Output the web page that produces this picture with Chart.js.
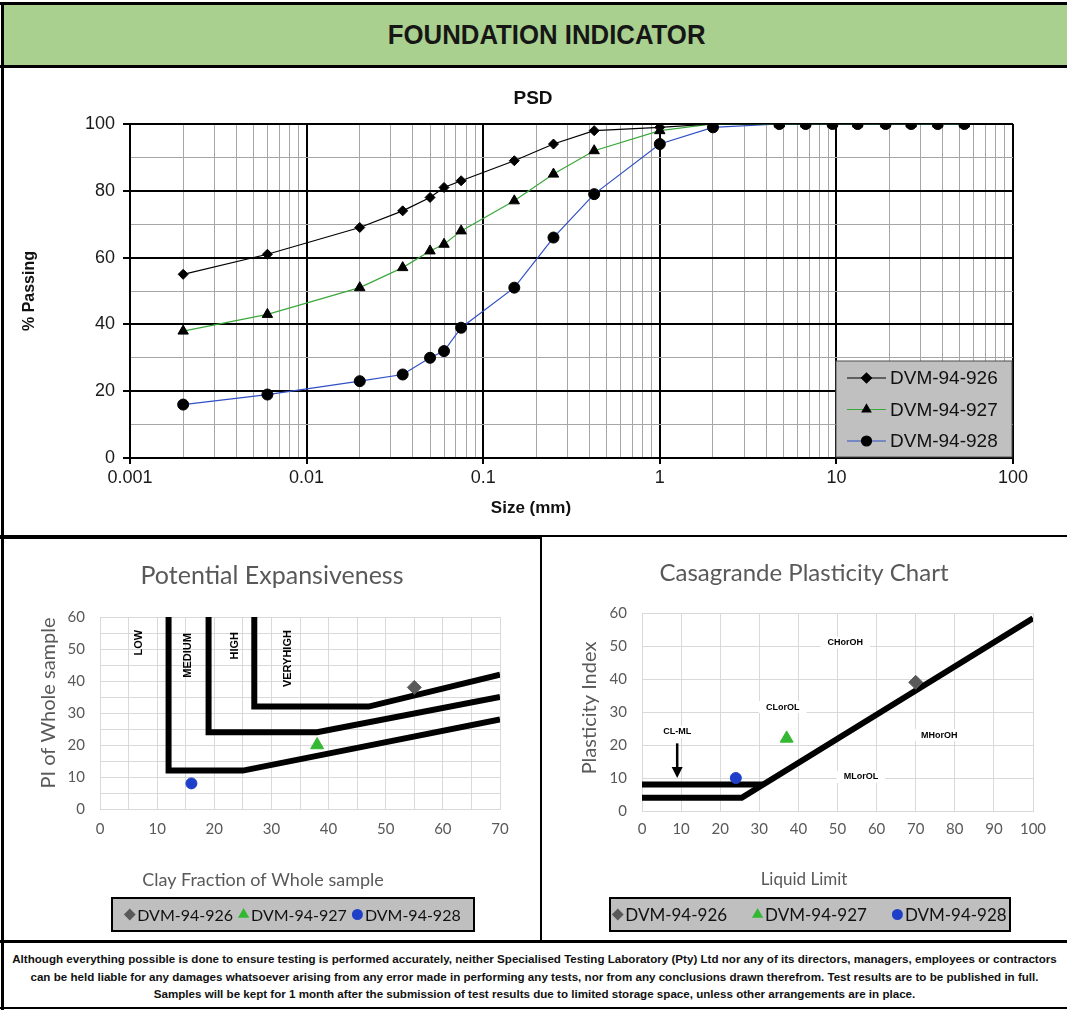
<!DOCTYPE html>
<html lang="en">
<head>
<meta charset="utf-8">
<title>Foundation Indicator</title>
<script src="https://cdn.jsdelivr.net/npm/chart.js@4.4.1/dist/chart.umd.min.js"></script>
<style>
  html, body { margin: 0; padding: 0; background: #ffffff; }
  #sheet { position: relative; width: 1067px; height: 1011px; overflow: hidden; background: #ffffff; }
  .rule { position: absolute; background: #000000; }
  #header {
    position: absolute; left: 3px; top: 5px; width: 1064px; height: 60px;
    background: #a9d08e; display: flex; align-items: center; justify-content: center;
    font-family: 'Liberation Sans Narrow', 'Liberation Sans', Arial, sans-serif;
    font-weight: bold; font-size: 28px; color: #161616;
  }
  #header span { display: inline-block; transform: translateX(12px) scaleX(0.92); }
  .panel { position: absolute; }
  .panel canvas { display: block; }
  #footer {
    position: absolute; left: 4px; top: 950px; width: 1061px; text-align: center; white-space: nowrap;
    font-family: 'Liberation Sans Narrow', 'Liberation Sans', Arial, sans-serif;
    font-weight: bold; font-size: 11.6px; line-height: 17.5px; color: #111111;
  }
</style>
</head>
<body>
<div id="sheet">
  <div class="rule" style="left:0;top:2px;width:1067px;height:3px"></div>
  <div id="header"><span>FOUNDATION INDICATOR</span></div>
  <div class="rule" style="left:0;top:65px;width:1067px;height:3px"></div>
  <div class="rule" style="left:1px;top:2px;width:3px;height:1008px"></div>

  <div class="panel" style="left:4px;top:68px;width:1063px;height:467px"><canvas id="psdChart" width="1063" height="467"></canvas></div>
  <div class="rule" style="left:0;top:535px;width:1067px;height:2px"></div>
  <div class="rule" style="left:0;top:537px;width:541px;height:2px"></div>

  <div class="panel" style="left:4px;top:539px;width:536px;height:401px"><canvas id="expChart" width="536" height="401"></canvas></div>
  <div class="rule" style="left:540px;top:535px;width:2px;height:407px"></div>
  <div class="panel" style="left:542px;top:539px;width:525px;height:401px"><canvas id="casaChart" width="525" height="401"></canvas></div>

  <div class="rule" style="left:0;top:940px;width:1067px;height:3px"></div>
  <div id="footer">Although everything possible is done to ensure testing is performed accurately, neither Specialised Testing Laboratory (Pty) Ltd nor any of its directors, managers, employees or contractors<br>can be held liable for any damages whatsoever arising from any error made in performing any tests, nor from any conclusions drawn therefrom. Test results are to be published in full.<br>Samples will be kept for 1 month after the submission of test results due to limited storage space, unless other arrangements are in place.</div>
  <div class="rule" style="left:0;top:1007px;width:1067px;height:2px"></div>
</div>

<script>
// ---------- sample data ----------
const sampleNames = ['DVM-94-926', 'DVM-94-927', 'DVM-94-928'];

// Particle size distribution (sieve / hydrometer size in mm vs % passing)
const sieveSizes = [0.002, 0.006, 0.02, 0.035, 0.05, 0.06, 0.075, 0.15, 0.25, 0.425, 1, 2, 4.75, 6.7, 9.5, 13.2, 19, 26.5, 37.5, 53];
const passing926 = [55, 61, 69, 74, 78, 81, 83, 89, 94, 98, 99, 100, 100, 100, 100, 100, 100, 100, 100, 100];
const passing927 = [38, 43, 51, 57, 62, 64, 68, 77, 85, 92, 98, 100, 100, 100, 100, 100, 100, 100, 100, 100];
const passing928 = [16, 19, 23, 25, 30, 32, 39, 51, 66, 79, 94, 99, 100, 100, 100, 100, 100, 100, 100, 100];
const sizeTickLabels = ['0.001', '0.01', '0.1', '1', '10', '100'];
const passingTickLabels = [0, 20, 40, 60, 80, 100];

// Potential expansiveness (clay fraction vs PI of whole sample)
const clayFraction = [55, 38, 16];
const piWholeSample = [38, 20, 8];
const lowBoundary = [[12, 60], [12, 12], [25, 12], [70, 28]];
const mediumBoundary = [[19, 60], [19, 24], [38, 24], [70, 35]];
const highBoundary = [[27, 60], [27, 32], [47, 32], [70, 42]];
const expansivenessZones = ['LOW', 'MEDIUM', 'HIGH', 'VERYHIGH'];
const expansivenessZoneAt = [[6.8, 52], [15.4, 48], [23.6, 51], [32.9, 47]];
const clayTicks = [0, 10, 20, 30, 40, 50, 60, 70];
const piTicks = [0, 10, 20, 30, 40, 50, 60];

// Casagrande plasticity chart (liquid limit vs plasticity index)
const liquidLimit = [70, 37, 24];
const plasticityIndex = [39, 22, 10];
const aLine = [[0, 4], [25.5, 4], [100, 58.4]];
const clMlUpper = [[0, 8], [31, 8]];
const soilGroups = ['CHorOH', 'CLorOL', 'MHorOH', 'MLorOL', 'CL-ML'];
const soilGroupAt = [[52, 51], [36, 31.5], [76, 23], [56, 10.3], [9, 24]];
const clMlArrow = [[9, 20.5], [9, 10]];
const llTicks = [0, 10, 20, 30, 40, 50, 60, 70, 80, 90, 100];

// ---------- helpers ----------
const SANS = "'Liberation Sans', Arial, sans-serif";
const SOFT = "Lato, 'Open Sans', sans-serif";
const NARROW = "'Liberation Sans Narrow', 'Liberation Sans', Arial, sans-serif";

const pts = (xs, ys) => xs.map((x, i) => ({ x, y: ys[i] }));
const pairs = list => list.map(([x, y]) => ({ x, y }));

Chart.defaults.animation = false;
Chart.defaults.responsive = false;
Chart.defaults.devicePixelRatio = 1;
Chart.defaults.plugins.legend.display = false;
Chart.defaults.plugins.tooltip.enabled = false;

// Free text (titles, axis names) placed in canvas pixels
const captionPlugin = {
  id: 'captions',
  afterDraw(chart, args, opts) {
    const ctx = chart.ctx;
    (opts.items || []).forEach(it => {
      ctx.save();
      ctx.font = it.font;
      ctx.fillStyle = it.color || '#000';
      ctx.textAlign = 'center';
      ctx.textBaseline = 'middle';
      ctx.translate(it.x, it.y);
      if (it.rotate) ctx.rotate(it.rotate);
      ctx.fillText(it.text, 0, 0);
      ctx.restore();
    });
  }
};

// Zone names anchored at data coordinates, plus optional arrows
const zoneLabelPlugin = {
  id: 'zoneLabels',
  afterDatasetsDraw(chart, args, opts) {
    const { ctx, scales: { x, y } } = chart;
    (opts.labels || []).forEach(l => {
      const px = x.getPixelForValue(l.at[0]);
      const py = y.getPixelForValue(l.at[1]);
      ctx.save();
      ctx.font = opts.font;
      ctx.textAlign = 'center';
      ctx.textBaseline = 'middle';
      ctx.translate(px, py);
      if (opts.rotate) ctx.rotate(opts.rotate);
      if (opts.background) {
        const w = ctx.measureText(l.text).width;
        ctx.fillStyle = opts.background;
        ctx.fillRect(-w / 2 - opts.padX, -opts.boxH / 2, w + 2 * opts.padX, opts.boxH);
      }
      ctx.fillStyle = opts.color;
      ctx.fillText(l.text, 0, 0);
      ctx.restore();
    });
    (opts.arrows || []).forEach(a => {
      const x0 = x.getPixelForValue(a[0][0]), y0 = y.getPixelForValue(a[0][1]);
      const x1 = x.getPixelForValue(a[1][0]), y1 = y.getPixelForValue(a[1][1]);
      ctx.save();
      ctx.strokeStyle = '#000';
      ctx.fillStyle = '#000';
      ctx.lineWidth = 2.5;
      ctx.beginPath();
      ctx.moveTo(x0, y0);
      ctx.lineTo(x1, y1 - 9);
      ctx.stroke();
      ctx.beginPath();
      ctx.moveTo(x1 - 5.5, y1 - 11);
      ctx.lineTo(x1 + 5.5, y1 - 11);
      ctx.lineTo(x1, y1);
      ctx.closePath();
      ctx.fill();
      ctx.restore();
    });
  }
};

// Grey legend box drawn inside the panel
const boxLegendPlugin = {
  id: 'boxLegend',
  afterDraw(chart, args, opts) {
    const ctx = chart.ctx;
    const b = opts.box;
    const items = chart.data.datasets.filter(d => d.inBoxLegend);
    ctx.save();
    ctx.fillStyle = opts.fill;
    ctx.fillRect(b.x, b.y, b.w, b.h);
    ctx.strokeStyle = opts.border;
    ctx.lineWidth = opts.borderWidth;
    ctx.strokeRect(b.x, b.y, b.w, b.h);
    ctx.font = opts.font;
    ctx.textBaseline = 'middle';
    ctx.textAlign = 'left';
    if (opts.layout === 'column') {
      items.forEach((ds, i) => {
        const cy = b.y + opts.firstRow + i * opts.rowGap;
        ctx.strokeStyle = ds.borderColor;
        ctx.lineWidth = 1.2;
        ctx.beginPath();
        ctx.moveTo(b.x + opts.lineFrom, cy);
        ctx.lineTo(b.x + opts.lineTo, cy);
        ctx.stroke();
        ctx.fillStyle = ds.pointBackgroundColor;
        ctx.strokeStyle = ds.pointBorderColor;
        Chart.helpers.drawPoint(ctx, { pointStyle: ds.pointStyle, radius: opts.markerRadius, rotation: 0, borderWidth: 1 },
          b.x + (opts.lineFrom + opts.lineTo) / 2, cy);
        ctx.fillStyle = opts.color;
        ctx.fillText(ds.label, b.x + opts.textAt, cy + 1);
      });
    } else {
      const mw = opts.markerRadius * 2, gap = 3;
      const widths = items.map(ds => mw + gap + ctx.measureText(ds.label).width);
      const total = widths.reduce((a, w) => a + w, 0) + opts.itemGap * (items.length - 1);
      let cx = b.x + (b.w - total) / 2;
      const cy = b.y + b.h / 2;
      items.forEach((ds, i) => {
        ctx.fillStyle = ds.pointBackgroundColor;
        ctx.strokeStyle = ds.pointBorderColor;
        Chart.helpers.drawPoint(ctx, { pointStyle: ds.pointStyle, radius: opts.markerRadius, rotation: 0, borderWidth: 1 },
          cx + opts.markerRadius, cy);
        ctx.fillStyle = opts.color;
        ctx.fillText(ds.label, cx + mw + gap, cy + 1);
        cx += widths[i] + opts.itemGap;
      });
    }
    ctx.restore();
  }
};

// ---------- PSD chart ----------
const sizeDecades = sizeTickLabels.map(Number);
const sizeGrid = [];
sizeDecades.forEach((d, i) => {
  if (i === sizeDecades.length - 1) { sizeGrid.push(d); return; }
  for (let m = 1; m <= 9; m++) sizeGrid.push(+(m * d).toPrecision(6));
});
const decadeIndex = v => sizeDecades.findIndex(d => Math.abs(v / d - 1) < 1e-6);
const isMajorPassing = v => passingTickLabels.includes(v);

const psdSeries = [passing926, passing927, passing928];
const psdLineColors = ['#000000', '#3aa83a', '#2f4fc4'];
const psdMarkers = [{ style: 'rectRot', r: 5 }, { style: 'triangle', r: 6 }, { style: 'circle', r: 5.5 }];

new Chart(document.getElementById('psdChart'), {
  type: 'scatter',
  data: {
    datasets: psdSeries.map((vals, i) => ({
      label: sampleNames[i],
      data: pts(sieveSizes, vals),
      showLine: true,
      borderColor: psdLineColors[i],
      borderWidth: 1.2,
      pointStyle: psdMarkers[i].style,
      pointRadius: psdMarkers[i].r,
      pointBackgroundColor: '#000',
      pointBorderColor: '#000',
      pointBorderWidth: 1,
      inBoxLegend: true
    }))
  },
  options: {
    layout: { padding: { left: 56, right: 54, top: 56, bottom: 37 } },
    scales: {
      x: {
        type: 'logarithmic', min: 0.001, max: 100,
        afterBuildTicks: s => { s.ticks = sizeGrid.map(v => ({ value: v })); },
        afterFit: s => { s.height = 40; },
        border: { color: '#000', width: 2 },
        grid: {
          color: c => decadeIndex(c.tick.value) >= 0 ? '#000' : '#a6a6a6',
          lineWidth: c => decadeIndex(c.tick.value) >= 0 ? 2 : 1,
          tickColor: c => decadeIndex(c.tick.value) >= 0 ? '#000' : 'rgba(0,0,0,0)',
          tickLength: 6
        },
        ticks: {
          autoSkip: false, maxRotation: 0, minRotation: 0, padding: 3,
          color: '#1a1a1a', font: { family: SANS, size: 18 },
          callback: v => { const i = decadeIndex(v); return i >= 0 ? sizeTickLabels[i] : ''; }
        }
      },
      y: {
        min: 0, max: 100,
        afterFit: s => { s.width = 70; },
        border: { color: '#000', width: 2 },
        grid: {
          color: c => isMajorPassing(c.tick.value) ? '#000' : '#a6a6a6',
          lineWidth: c => isMajorPassing(c.tick.value) ? 2 : 1,
          tickColor: c => isMajorPassing(c.tick.value) ? '#000' : 'rgba(0,0,0,0)',
          tickLength: 7
        },
        ticks: {
          stepSize: 10, autoSkip: false, padding: 8,
          color: '#1a1a1a', font: { family: SANS, size: 18 },
          callback: v => isMajorPassing(v) ? String(v) : ''
        }
      }
    },
    plugins: {
      captions: {
        items: [
          { text: 'PSD', x: 529, y: 31, font: `bold 19px ${SANS}`, color: '#111' },
          { text: '% Passing', x: 26, y: 223, rotate: -Math.PI / 2, font: `bold 16px ${SANS}`, color: '#111' },
          { text: 'Size (mm)', x: 527, y: 440, font: `bold 17px ${SANS}`, color: '#111' }
        ]
      },
      boxLegend: {
        layout: 'column', box: { x: 832, y: 293, w: 176, h: 96 },
        fill: '#c0c0c0', border: '#4d4d4d', borderWidth: 1,
        font: `19px ${SANS}`, color: '#111',
        firstRow: 17, rowGap: 31.5, lineFrom: 11, lineTo: 50, textAt: 54, markerRadius: 5
      }
    }
  },
  plugins: [captionPlugin, boxLegendPlugin]
});

// ---------- shared bits for the two classification charts ----------
const sampleColors = ['#595959', '#33b833', '#1f3fc8'];
const sampleMarkers = [{ style: 'rectRot', r: 7 }, { style: 'triangle', r: 7.5 }, { style: 'circle', r: 5.5 }];

function boundaryDataset(points) {
  return {
    data: pairs(points), showLine: true,
    borderColor: '#000', borderWidth: 6,
    pointRadius: 0, borderJoinStyle: 'miter', borderCapStyle: 'butt',
    order: 2
  };
}
function sampleDataset(i, xs, ys) {
  return {
    label: sampleNames[i],
    data: [{ x: xs[i], y: ys[i] }],
    showLine: false,
    pointStyle: sampleMarkers[i].style,
    pointRadius: sampleMarkers[i].r,
    pointBackgroundColor: sampleColors[i],
    pointBorderColor: sampleColors[i],
    pointBorderWidth: 1,
    inBoxLegend: true,
    order: 1
  };
}
function linearAxis(min, max, step, labels, fit, padding, horizontal) {
  return {
    type: 'linear', min, max,
    afterFit: s => { if (horizontal) s.height = fit; else s.width = fit; },
    border: { color: '#d9d9d9', width: 1 },
    grid: { color: '#d9d9d9', lineWidth: 1, drawTicks: false },
    ticks: {
      stepSize: step, autoSkip: false, maxRotation: 0, padding,
      color: '#595959', font: { family: SOFT, size: 15 },
      callback: v => labels.includes(v) ? String(v) : ''
    }
  };
}

// ---------- Potential expansiveness ----------
new Chart(document.getElementById('expChart'), {
  type: 'scatter',
  data: {
    datasets: [
      boundaryDataset(lowBoundary),
      boundaryDataset(mediumBoundary),
      boundaryDataset(highBoundary),
      sampleDataset(0, clayFraction, piWholeSample),
      sampleDataset(1, clayFraction, piWholeSample),
      sampleDataset(2, clayFraction, piWholeSample)
    ]
  },
  options: {
    layout: { padding: { left: 46, right: 40, top: 78, bottom: 91 } },
    scales: {
      x: linearAxis(0, 70, 5, clayTicks, 40, 11, true),
      y: linearAxis(0, 60, 5, piTicks, 50, 15, false)
    },
    plugins: {
      zoneLabels: {
        labels: expansivenessZones.map((t, i) => ({ text: t, at: expansivenessZoneAt[i] })),
        font: `bold 11px ${NARROW}`, color: '#000', rotate: -Math.PI / 2
      },
      captions: {
        items: [
          { text: 'Potential Expansiveness', x: 268, y: 37, font: `25px ${SOFT}`, color: '#595959' },
          { text: 'PI of Whole sample', x: 45, y: 164, rotate: -Math.PI / 2, font: `20px ${SOFT}`, color: '#595959' },
          { text: 'Clay Fraction of Whole sample', x: 259, y: 341, font: `18px ${SOFT}`, color: '#595959' }
        ]
      },
      boxLegend: {
        layout: 'row', box: { x: 108, y: 359, w: 362, h: 33 },
        fill: '#bfbfbf', border: '#000', borderWidth: 2,
        font: `16px ${SOFT}`, color: '#111', itemGap: 6, markerRadius: 4.5
      }
    }
  },
  plugins: [zoneLabelPlugin, captionPlugin, boxLegendPlugin]
});

// ---------- Casagrande plasticity chart ----------
new Chart(document.getElementById('casaChart'), {
  type: 'scatter',
  data: {
    datasets: [
      boundaryDataset(aLine),
      boundaryDataset(clMlUpper),
      sampleDataset(0, liquidLimit, plasticityIndex),
      sampleDataset(1, liquidLimit, plasticityIndex),
      sampleDataset(2, liquidLimit, plasticityIndex)
    ]
  },
  options: {
    layout: { padding: { left: 50, right: 34, top: 74, bottom: 89 } },
    scales: {
      x: linearAxis(0, 100, 10, llTicks, 40, 9, true),
      y: linearAxis(0, 60, 10, piTicks, 50, 15, false)
    },
    plugins: {
      zoneLabels: {
        labels: soilGroups.map((t, i) => ({ text: t, at: soilGroupAt[i] })),
        font: `bold 9px ${NARROW}`, color: '#000',
        background: '#ffffff', padX: 7, boxH: 12,
        arrows: [clMlArrow]
      },
      captions: {
        items: [
          { text: 'Casagrande Plasticity Chart', x: 262, y: 34, font: `24px ${SOFT}`, color: '#595959' },
          { text: 'Plasticity Index', x: 48, y: 169, rotate: -Math.PI / 2, font: `20px ${SOFT}`, color: '#595959' },
          { text: 'Liquid Limit', x: 262, y: 341, font: `17px ${SOFT}`, color: '#595959' }
        ]
      },
      boxLegend: {
        layout: 'row', box: { x: 68, y: 359, w: 400, h: 33 },
        fill: '#bfbfbf', border: '#000', borderWidth: 2,
        font: `17px ${SOFT}`, color: '#111', itemGap: 26, markerRadius: 4.5
      }
    }
  },
  plugins: [zoneLabelPlugin, captionPlugin, boxLegendPlugin]
});
</script>
</body>
</html>
